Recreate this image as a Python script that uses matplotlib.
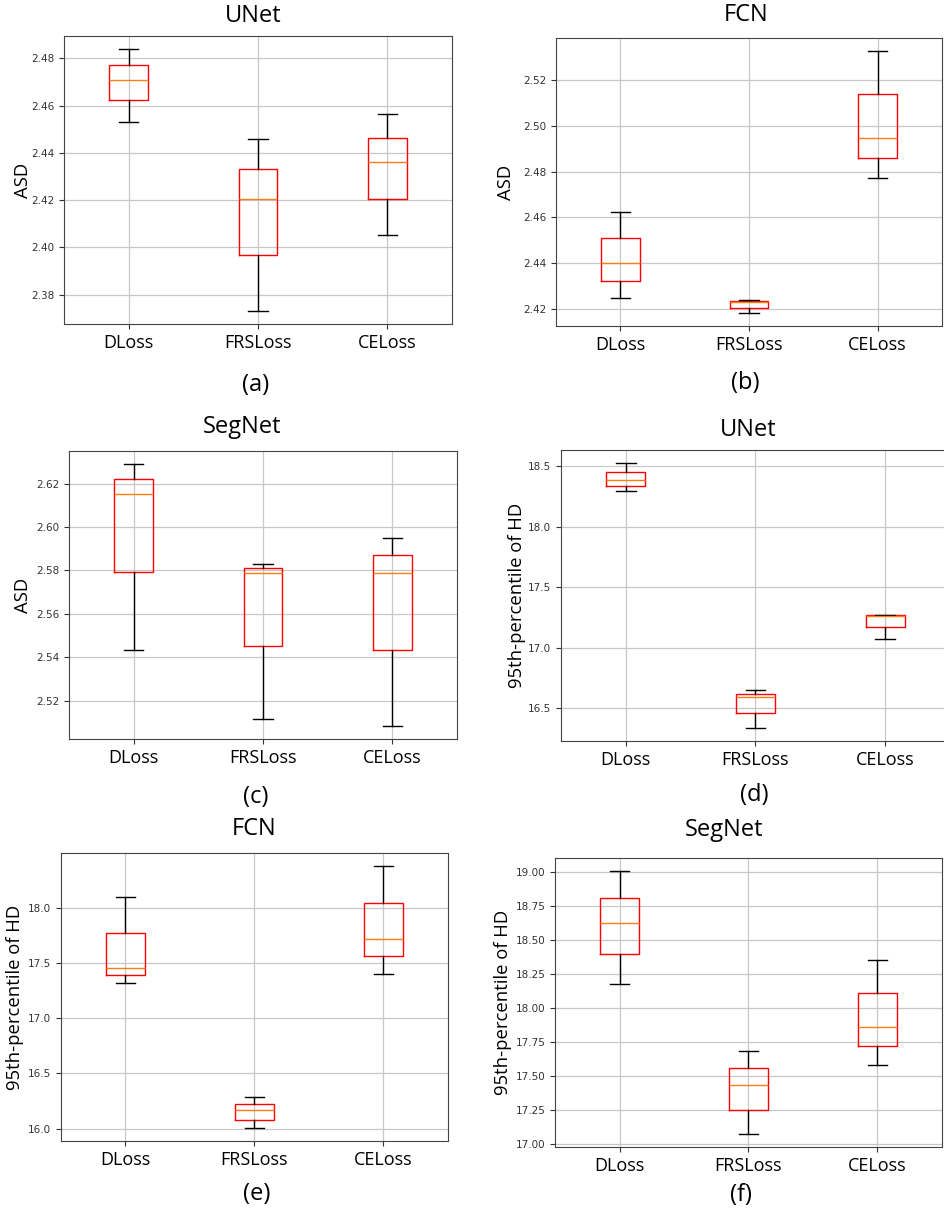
import matplotlib
matplotlib.use('Agg')
import matplotlib.pyplot as plt

# Box statistics: (whislo, q1, median, q3, whishi)
losses = ['DLoss', 'FRSLoss', 'CELoss']

unet_asd = [(2.4532, 2.4623, 2.4710, 2.4773, 2.4839),
            (2.3731, 2.3969, 2.4206, 2.4331, 2.4458),
            (2.4051, 2.4206, 2.4362, 2.4463, 2.4565)]
fcn_asd = [(2.4250, 2.4325, 2.4400, 2.4512, 2.4625),
           (2.4184, 2.4207, 2.4230, 2.4237, 2.4241),
           (2.4770, 2.4859, 2.4947, 2.5138, 2.5325)]
segnet_asd = [(2.5435, 2.5795, 2.6153, 2.6221, 2.6290),
              (2.5116, 2.5454, 2.5790, 2.5812, 2.5830),
              (2.5084, 2.5435, 2.5790, 2.5870, 2.5949)]
unet_hd = [(18.299, 18.337, 18.384, 18.456, 18.525),
           (16.337, 16.461, 16.591, 16.616, 16.649),
           (17.072, 17.169, 17.260, 17.269, 17.269)]
fcn_hd = [(17.321, 17.394, 17.454, 17.777, 18.097),
          (16.006, 16.081, 16.169, 16.226, 16.284),
          (17.406, 17.563, 17.719, 18.048, 18.380)]
segnet_hd = [(18.179, 18.402, 18.625, 18.814, 19.010),
             (17.078, 17.255, 17.441, 17.561, 17.689),
             (17.583, 17.723, 17.865, 18.113, 18.355)]

panels = [
    ('UNet', 'ASD', '(a)', unet_asd),
    ('FCN', 'ASD', '(b)', fcn_asd),
    ('SegNet', 'ASD', '(c)', segnet_asd),
    ('UNet', '95th-percentile of HD', '(d)', unet_hd),
    ('FCN', '95th-percentile of HD', '(e)', fcn_hd),
    ('SegNet', '95th-percentile of HD', '(f)', segnet_hd),
]

W, H = 945, 1211
# axes boxes in pixels: left, top, right, bottom
boxes = [(64, 36, 452, 324), (556, 38, 942, 326),
         (69, 451, 457, 739), (561, 450, 950, 741),
         (61, 853, 448, 1141), (555, 858, 942, 1147)]
title_pos = [(253, 16), (746, 15), (242, 427), (748, 430), (254, 829), (724, 830)]
caption_pos = [(256, 385), (745, 383), (256, 797), (754, 795), (257, 1194), (741, 1195)]
ylabel_gap = [41, 50, 46, 44, 46, 52]

label_font = 'Open Sans'

fig = plt.figure(figsize=(W / 100, H / 100), dpi=100)

for i, (title, ylab, cap, stats) in enumerate(panels):
    l, t, r, b = boxes[i]
    ax = fig.add_axes([l / W, 1 - b / H, (r - l) / W, (b - t) / H])
    bxp_stats = []
    for name, (lo, q1, med, q3, hi) in zip(losses, stats):
        bxp_stats.append({'label': name, 'whislo': lo, 'q1': q1, 'med': med,
                          'q3': q3, 'whishi': hi, 'fliers': []})
    ax.bxp(bxp_stats, showfliers=False,
           boxprops=dict(color='red', linewidth=1.0),
           medianprops=dict(color='#ff7f0e', linewidth=1.0),
           whiskerprops=dict(color='black', linewidth=1.0),
           capprops=dict(color='black', linewidth=1.0))
    ax.grid(True, color='#c8c8c8', linewidth=0.9)
    ax.set_axisbelow(True)
    for s in ax.spines.values():
        s.set_color('#444444')
    ax.tick_params(axis='y', labelsize=7.5, colors='#333333')
    ax.tick_params(axis='x', colors='#333333')
    for lbl in ax.get_xticklabels():
        lbl.set_fontfamily(label_font)
        lbl.set_fontsize(13)
        lbl.set_color('black')
    ax.set_ylabel(ylab, fontfamily=label_font, fontsize=13.3, va='center')
    ax.yaxis.set_label_coords(-ylabel_gap[i] / (r - l), 0.5)
    if i == 5:
        ax.yaxis.set_major_formatter(matplotlib.ticker.FormatStrFormatter('%.2f'))
    tx, ty = title_pos[i]
    fig.text(tx / W, 1 - ty / H, title, ha='center', va='center',
             fontfamily=label_font, fontsize=17)
    cx, cy = caption_pos[i]
    fig.text(cx / W, 1 - cy / H, cap, ha='center', va='center',
             fontfamily=label_font, fontsize=17)

fig.savefig('out.png', dpi=100)
